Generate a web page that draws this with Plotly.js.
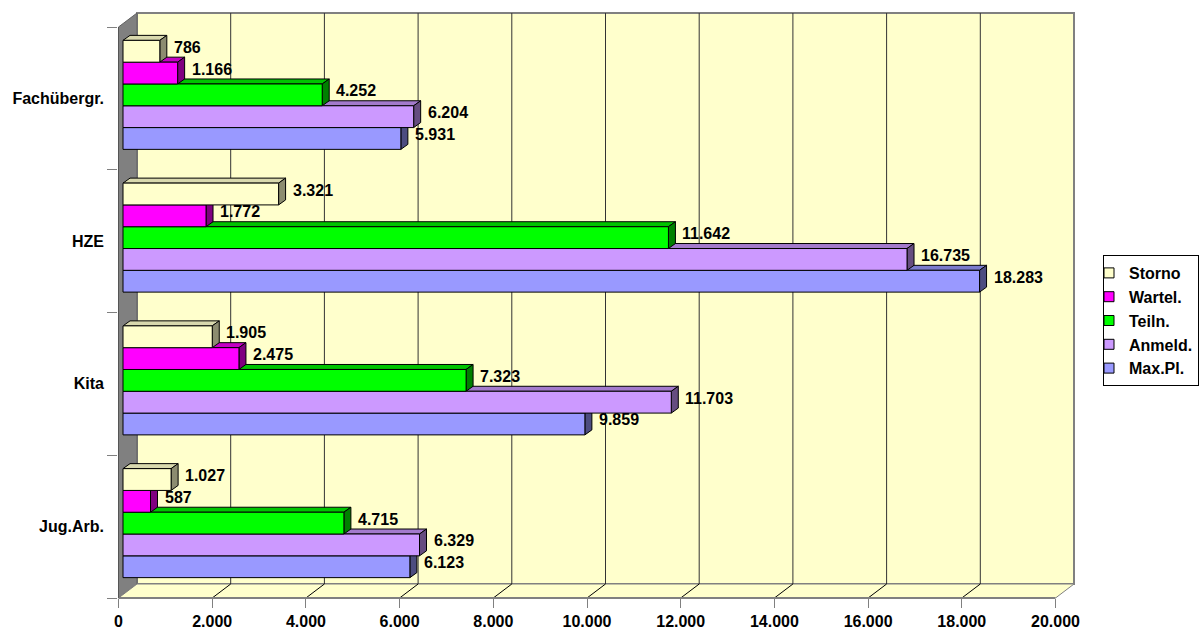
<!DOCTYPE html>
<html>
<head>
<meta charset="utf-8">
<script src="https://cdn.plot.ly/plotly-3.0.1.min.js"></script>
<style>html,body{margin:0;padding:0;background:#fff;}#chart{width:1201px;height:631px;}</style>
</head>
<body>
<div id="chart"></div>
<script>
// ---------- data ----------
const categories = ['Jug.Arb.', 'Kita', 'HZE', 'Fachübergr.'];
const seriesNames = ['Max.Pl.', 'Anmeld.', 'Teiln.', 'Wartel.', 'Storno'];
const maxPl  = [6123, 9859, 18283, 5931];
const anmeld = [6329, 11703, 16735, 6204];
const teiln  = [4715, 7323, 11642, 4252];
const wartel = [587, 2475, 1772, 1166];
const storno = [1027, 1905, 3321, 786];
const xTicks = [0, 2000, 4000, 6000, 8000, 10000, 12000, 14000, 16000, 18000, 20000];

// ---------- style ----------
const frontColors = ['#9999FF', '#CC99FF', '#00FF00', '#FF00FF', '#FFFFCC'];
const topColors   = ['#7A7ACC', '#A37ACC', '#00C400', '#C400C4', '#D9D9AE'];
const sideColors  = ['#4D4D80', '#664D80', '#008000', '#800080', '#8C8C70'];
const seriesValues = [maxPl, anmeld, teiln, wartel, storno];

const FONT = {family: 'Liberation Sans, Arial, sans-serif', size: 16, color: '#000', weight: 'bold'};

// geometry (pixels)
const PL = 118, PR = 1201, PT = 11, PB = 598;
const S = 0.04685;            // px per value unit
const ZERO_FRONT = 118.5;     // front axis zero
const ZERO_BAR = 123;         // bar base
const ZERO_BACK = 137;        // back wall zero
const BACK_TOP = 13, BACK_BOTTOM = 584, FRONT_TOP = 27;
const CAT_PX = 142.75;
const BAR_H = 21.8, BAR_LIFT = 3.5, BAR_DX = 7, BAR_DY = 5;
const LEG_LEFT = 1103, LEG_TOP = 255;
const xMax = xTicks[xTicks.length - 1];

const yOf = px => -0.5 + (PB - px) / CAT_PX;
const xF = v => v;                                   // front axis units (xaxis)
const xB = v => v + (ZERO_BACK - ZERO_FRONT) / S;    // back wall in xaxis units
const fmt = v => String(v).replace(/\B(?=(\d{3})+(?!\d))/g, '.');

const w = BAR_H / CAT_PX;
const lift = BAR_LIFT / CAT_PX;
const dxu = BAR_DX / S, dyu = BAR_DY / CAT_PX;

const shapes = [];
// back wall
shapes.push({type: 'rect', xref: 'x', yref: 'y', layer: 'below',
  x0: xB(0), x1: xB(xMax), y0: yOf(BACK_BOTTOM), y1: yOf(BACK_TOP),
  fillcolor: '#FFFFCC', line: {color: '#808080', width: 2}});
// left wall
shapes.push({type: 'path', xref: 'x', yref: 'y', layer: 'below',
  path: `M${xF(0)},${yOf(PB)} L${xB(0)},${yOf(BACK_BOTTOM)} L${xB(0)},${yOf(BACK_TOP)} L${xF(0)},${yOf(FRONT_TOP)} Z`,
  fillcolor: '#808080', line: {color: '#606060', width: 1}});
// floor
shapes.push({type: 'path', xref: 'x', yref: 'y', layer: 'below',
  path: `M${xF(0)},${yOf(PB)} L${xB(0)},${yOf(BACK_BOTTOM)} L${xB(xMax)},${yOf(BACK_BOTTOM)} L${xF(xMax)},${yOf(PB)} Z`,
  fillcolor: '#FFFFCC', line: {color: '#808080', width: 1}});
// gridlines + floor diagonals
xTicks.forEach(v => {
  if (v > 0 && v < xMax) {
    shapes.push({type: 'line', xref: 'x', yref: 'y', layer: 'below',
      x0: xB(v), x1: xB(v), y0: yOf(BACK_BOTTOM), y1: yOf(BACK_TOP),
      line: {color: '#333333', width: 1}});
    shapes.push({type: 'line', xref: 'x', yref: 'y', layer: 'below',
      x0: xF(v), x1: xB(v), y0: yOf(PB), y1: yOf(BACK_BOTTOM),
      line: {color: '#000000', width: 1}});
  }
});
// front axes
shapes.push({type: 'line', xref: 'x', yref: 'paper', layer: 'above',
  x0: xF(0), x1: xF(xMax), y0: 0, y1: 0, line: {color: '#808080', width: 2}});
shapes.push({type: 'line', xref: 'x', yref: 'y', layer: 'above',
  x0: xF(0), x1: xF(0), y0: yOf(PB), y1: yOf(FRONT_TOP), line: {color: '#555555', width: 1}});

// bars, 3D faces, labels
const traces = [];
const annotations = [];
seriesValues.forEach((vals, k) => {
  const off = lift - 2.5 * w + k * w;
  traces.push({type: 'bar', orientation: 'h', name: seriesNames[k],
    x: vals, y: categories, xaxis: 'x2', yaxis: 'y',
    width: w, offset: off, showlegend: false, hoverinfo: 'skip',
    marker: {color: frontColors[k], line: {color: '#000', width: 1}}});
  vals.forEach((v, i) => {
    const b = i + off, t = b + w;
    shapes.push({type: 'path', xref: 'x2', yref: 'y', layer: 'below',
      path: `M0,${t} L${dxu},${t + dyu} L${v + dxu},${t + dyu} L${v},${t} Z`,
      fillcolor: topColors[k], line: {color: '#000', width: 1}});
    shapes.push({type: 'path', xref: 'x2', yref: 'y', layer: 'below',
      path: `M${v},${b} L${v},${t} L${v + dxu},${t + dyu} L${v + dxu},${b + dyu} Z`,
      fillcolor: sideColors[k], line: {color: '#000', width: 1}});
    annotations.push({xref: 'x2', yref: 'y', x: v, y: b + w / 2, text: fmt(v),
      xanchor: 'left', yanchor: 'middle', xshift: 12, yshift: 4, showarrow: false, font: FONT});
  });
});
// legend entries (Storno first)
for (let k = seriesNames.length - 1; k >= 0; k--) {
  traces.push({type: 'scatter', mode: 'markers', name: seriesNames[k],
    x: [null], y: [null], xaxis: 'x2', yaxis: 'y', hoverinfo: 'skip',
    marker: {symbol: 'square', size: 10, color: frontColors[k], line: {color: '#000', width: 1}}});
}

const layout = {
  width: 1201, height: 631, autosize: false,
  margin: {l: PL, r: 1201 - PR, t: PT, b: 631 - PB, pad: 0},
  paper_bgcolor: '#FFFFFF', plot_bgcolor: 'rgba(0,0,0,0)',
  font: FONT,
  showlegend: true,
  legend: {x: (LEG_LEFT - PL) / (PR - PL), y: (PB - LEG_TOP) / (PB - PT), xanchor: 'left', yanchor: 'top',
    bgcolor: '#FFFFFF', bordercolor: '#000', borderwidth: 1, font: FONT,
    traceorder: 'normal', indentation: -15, tracegroupgap: 0},
  xaxis: {range: [(PL - ZERO_FRONT) / S, (PR - ZERO_FRONT) / S], tickvals: xTicks, ticktext: xTicks.map(fmt),
    ticks: 'outside', ticklen: 9, tickcolor: '#808080', tickwidth: 1,
    showgrid: false, zeroline: false, showline: false, tickfont: FONT, fixedrange: true},
  xaxis2: {overlaying: 'x', anchor: 'y', visible: false,
    range: [(PL - ZERO_BAR) / S, (PR - ZERO_BAR) / S], fixedrange: true},
  yaxis: {type: 'category', categoryorder: 'array', categoryarray: categories,
    range: [-0.5, -0.5 + (PB - PT) / CAT_PX], tickson: 'boundaries',
    ticks: 'outside', ticklen: 10, tickcolor: '#808080', tickwidth: 1, ticklabelstandoff: 13,
    showgrid: false, zeroline: false, showline: false, tickfont: FONT, fixedrange: true},
  shapes: shapes,
  annotations: annotations,
  bargap: 0
};

Plotly.newPlot('chart', traces, layout, {displayModeBar: false, staticPlot: true});
</script>
</body>
</html>
